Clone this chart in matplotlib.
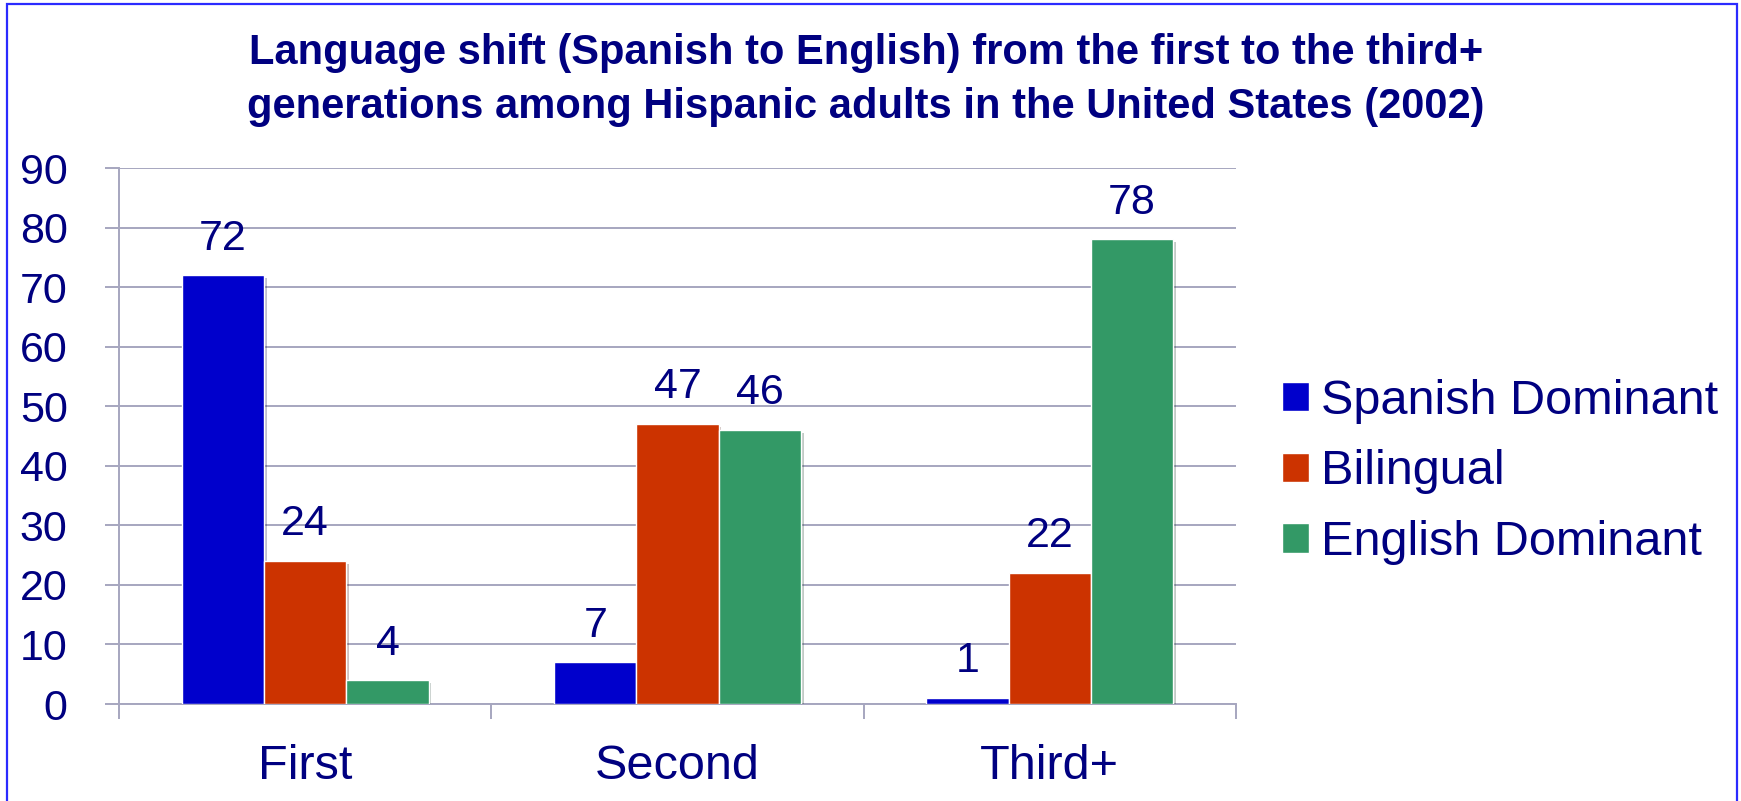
import matplotlib
matplotlib.use("Agg")
import matplotlib.pyplot as plt
import numpy as np
from matplotlib.patches import Rectangle
import matplotlib.patheffects as pe

categories = ["First", "Second", "Third+"]
series_names = ["Spanish Dominant", "Bilingual", "English Dominant"]
spanish_dominant = [72, 7, 1]
bilingual = [24, 47, 22]
english_dominant = [4, 46, 78]
yticks = [0, 10, 20, 30, 40, 50, 60, 70, 80, 90]
title = ("Language shift (Spanish to English) from the first to the third+\n"
         "generations among Hispanic adults in the United States (2002)")

colors = ["#0000CC", "#CC3300", "#339966"]
navy = "#000080"
grid_c = "#A6A6BF"

plt.rcParams['font.family'] = ['Liberation Sans', 'DejaVu Sans']

W, H = 1741, 801
fig = plt.figure(figsize=(W / 100, H / 100), dpi=100)

ax = fig.add_axes([119 / W, 1 - 704 / H, (1236 - 119) / W, (704 - 168) / H])
x = np.arange(len(categories))
bw = 0.221
series = [spanish_dominant, bilingual, english_dominant]
for i, (vals, name, c) in enumerate(zip(series, series_names, colors)):
    ax.bar(x + (i - 1) * bw, vals, width=bw, color=c, edgecolor="white",
           linewidth=1.0, label=name, zorder=3,
           path_effects=[pe.SimplePatchShadow(offset=(2, -2), alpha=0.25), pe.Normal()])
    for xi, v in zip(x + (i - 1) * bw, vals):
        ax.annotate(f"{v}", (xi, v), xytext=(0, 12), textcoords="offset points",
                    ha="center", va="bottom", fontsize=31, color=navy)

ax.set_xlim(-0.5, 2.5)
ax.set_ylim(0, 90)
ax.set_yticks(yticks)
ax.set_yticklabels([str(t) for t in yticks])
ax.yaxis.grid(True, color=grid_c, linewidth=1.4, zorder=0)
ax.set_axisbelow(True)
for s in ["top", "right"]:
    ax.spines[s].set_visible(False)
for s in ["left", "bottom"]:
    ax.spines[s].set_color(grid_c)
    ax.spines[s].set_linewidth(1.4)
ax.tick_params(axis="y", length=10, width=1.4, color=grid_c, pad=27,
               labelsize=31, labelcolor=navy)
ax.set_xticks(x)
ax.set_xticklabels(categories)
ax.tick_params(axis="x", which="major", length=0, pad=29, labelsize=35, labelcolor=navy)
ax.set_xticks([-0.5, 0.5, 1.5, 2.5], minor=True)
ax.tick_params(axis="x", which="minor", length=11, width=1.4, color=grid_c, direction="out")

handles = [Rectangle((0, 0), 1, 1, facecolor=c, edgecolor="white") for c in colors]
fig.legend(handles, series_names, loc="center left",
           bbox_to_anchor=(1282 / W, 1 - 472 / H), frameon=False,
           fontsize=35, labelcolor=navy, handlelength=0.55, handleheight=0.55,
           handletextpad=0.25, borderpad=0, borderaxespad=0, labelspacing=0.53)

fig.text(866 / W, 1 - 80 / H, title, ha="center", va="center", fontsize=30,
         fontweight="bold", color=navy, linespacing=1.42)

fig.patches.append(Rectangle((7 / W, -0.02), (1737 - 7) / W, 1.02 - 4 / H,
                             transform=fig.transFigure, fill=False,
                             edgecolor="#2B2BFF", linewidth=1.6))

fig.savefig("out.png", dpi=100)
